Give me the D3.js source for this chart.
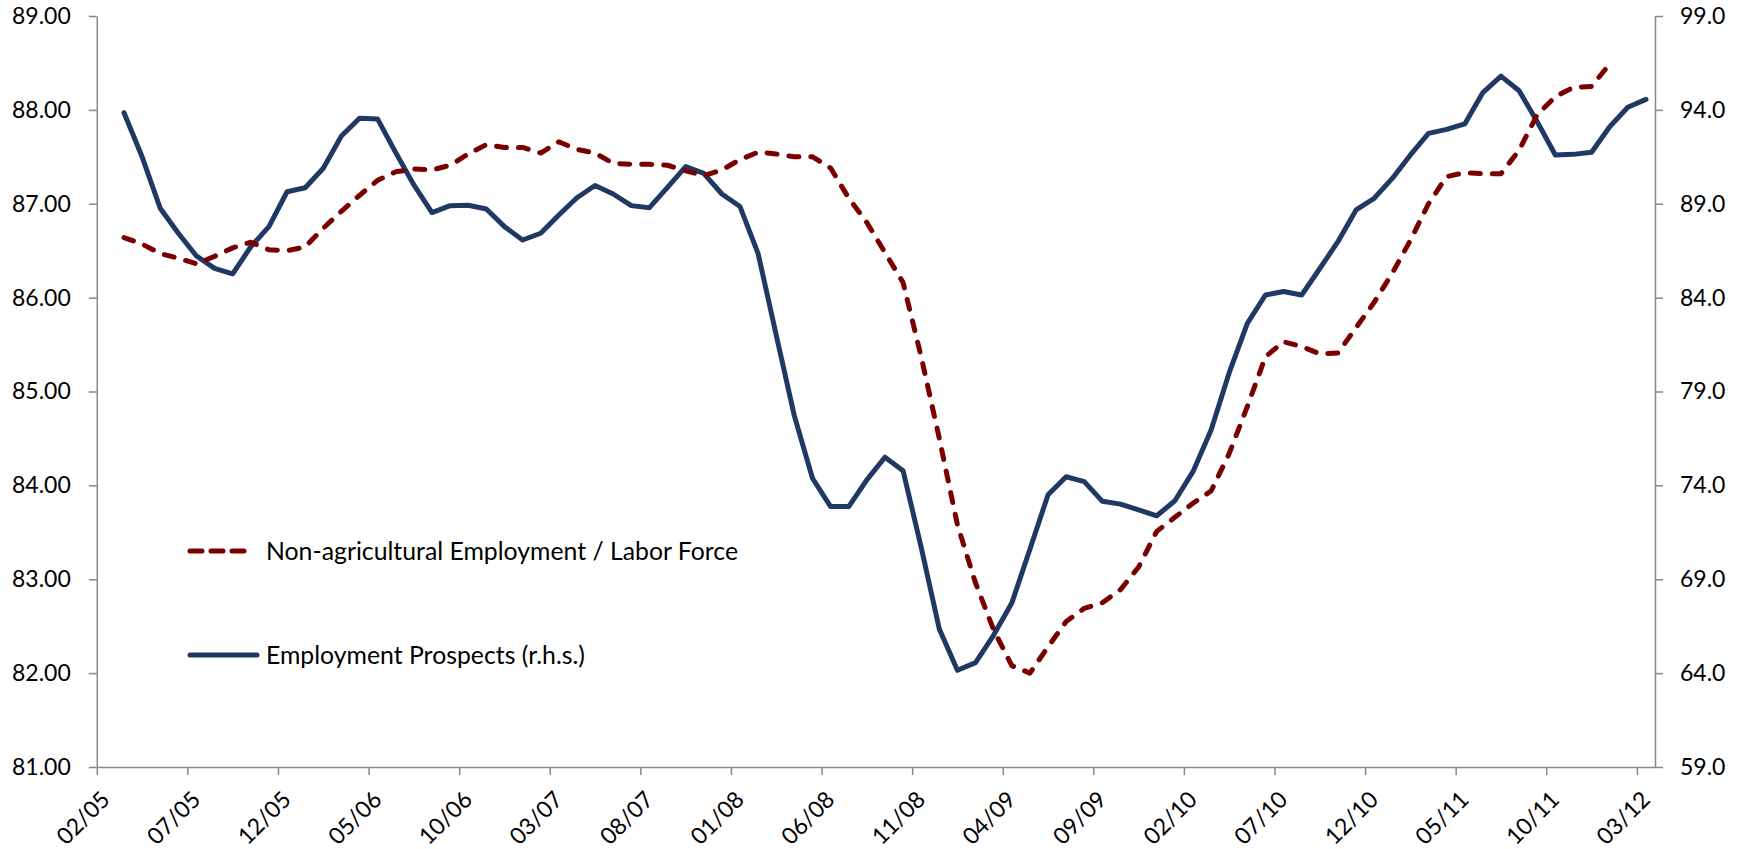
<!DOCTYPE html>
<html lang="en">

<head>
    <meta charset="UTF-8">
    <title>Employment</title>
    <script src="https://cdn.jsdelivr.net/npm/d3@7"></script>
    <style>
        body { margin: 0; background: #fff; }
        svg text { font-family: Lato, "Noto Sans", sans-serif; fill: #000; }
    </style>
</head>

<body>

    <main></main>

    <script>
        // monthly categories, 02/05 .. 03/12
        var months = [
            "02/05", "03/05", "04/05", "05/05", "06/05", "07/05", "08/05", "09/05", "10/05", "11/05", "12/05",
            "01/06", "02/06", "03/06", "04/06", "05/06", "06/06", "07/06", "08/06", "09/06", "10/06", "11/06", "12/06",
            "01/07", "02/07", "03/07", "04/07", "05/07", "06/07", "07/07", "08/07", "09/07", "10/07", "11/07", "12/07",
            "01/08", "02/08", "03/08", "04/08", "05/08", "06/08", "07/08", "08/08", "09/08", "10/08", "11/08", "12/08",
            "01/09", "02/09", "03/09", "04/09", "05/09", "06/09", "07/09", "08/09", "09/09", "10/09", "11/09", "12/09",
            "01/10", "02/10", "03/10", "04/10", "05/10", "06/10", "07/10", "08/10", "09/10", "10/10", "11/10", "12/10",
            "01/11", "02/11", "03/11", "04/11", "05/11", "06/11", "07/11", "08/11", "09/11", "10/11", "11/11", "12/11",
            "01/12", "02/12", "03/12"
        ];

        var tickLabels = ["02/05", "07/05", "12/05", "05/06", "10/06", "03/07", "08/07", "01/08", "06/08",
            "11/08", "04/09", "09/09", "02/10", "07/10", "12/10", "05/11", "10/11", "03/12"];

        var leftTicks = [81, 82, 83, 84, 85, 86, 87, 88, 89];
        var rightTicks = [59, 64, 69, 74, 79, 84, 89, 94, 99];

        // Non-agricultural Employment / Labor Force (left axis), from 03/05
        var employmentStart = "03/05";
        var employmentRatio = [
            86.64, 86.57, 86.47, 86.42, 86.36, 86.44, 86.53, 86.59, 86.51, 86.50,
            86.54, 86.74, 86.92, 87.09, 87.25, 87.34, 87.37, 87.36, 87.41, 87.53,
            87.63, 87.60, 87.60, 87.54, 87.66, 87.58, 87.54, 87.43, 87.42, 87.42,
            87.41, 87.35, 87.30, 87.36, 87.47, 87.55, 87.53, 87.50, 87.50, 87.38,
            87.06, 86.80, 86.48, 86.16, 85.37, 84.50, 83.58, 82.96, 82.46, 82.08,
            82.00, 82.28, 82.55, 82.69, 82.75, 82.89, 83.13, 83.51, 83.66, 83.81,
            83.94, 84.34, 84.84, 85.37, 85.53, 85.48, 85.40, 85.41, 85.68, 85.95,
            86.26, 86.61, 87.00, 87.29, 87.33, 87.32, 87.32, 87.57, 87.95, 88.14,
            88.24, 88.25, 88.49
        ];

        // Employment Prospects (right axis), from 03/05
        var prospectsStart = "03/05";
        var prospects = [
            93.85, 91.50, 88.76, 87.43, 86.22, 85.56, 85.26, 86.71, 87.78, 89.64,
            89.85, 90.89, 92.61, 93.55, 93.51, 91.72, 90.00, 88.53, 88.90, 88.92,
            88.72, 87.78, 87.07, 87.43, 88.40, 89.32, 89.97, 89.52, 88.90, 88.79,
            89.87, 90.98, 90.62, 89.52, 88.85, 86.34, 82.00, 77.70, 74.38, 72.87,
            72.87, 74.29, 75.50, 74.78, 70.70, 66.35, 64.15, 64.56, 66.03, 67.73,
            70.60, 73.50, 74.46, 74.20, 73.15, 73.00, 72.70, 72.38, 73.18, 74.73,
            76.95, 80.00, 82.63, 84.14, 84.33, 84.14, 85.55, 86.98, 88.67, 89.29,
            90.35, 91.60, 92.75, 92.96, 93.25, 94.92, 95.80, 95.02, 93.37, 91.60,
            91.63, 91.74, 93.10, 94.14, 94.56
        ];

        var legendNames = ["Non-agricultural Employment / Labor Force", "Employment Prospects (r.h.s.)"];

        var red = '#7a0000';
        var blue = '#1f3864';
        var axisColor = '#878787';

        var svg = d3.select('main')
            .append('svg')
            .attr('width', 1746)
            .attr('height', 849);

        var plotLeft = 96.8, plotRight = 1655, plotTop = 16, plotBottom = 767;

        var x = d3.scaleLinear()
            .domain([0, months.length])
            .range([plotLeft, plotRight]);

        var yLeft = d3.scaleLinear()
            .domain([81, 89])
            .range([plotBottom, plotTop]);

        var yRight = d3.scaleLinear()
            .domain([59, 99])
            .range([plotBottom, plotTop]);

        function toPoints(values, start) {
            var offset = months.indexOf(start);
            return values.map((v, i) => ({ idx: offset + i, value: v }));
        }

        // axes
        var xAxis = svg.append('g')
            .attr('transform', `translate(0, ${plotBottom})`)
            .call(d3.axisBottom(x)
                .tickValues(tickLabels.map(t => months.indexOf(t)))
                .tickFormat(i => months[i])
                .tickSizeInner(8)
                .tickSizeOuter(0));

        xAxis.selectAll('text')
            .attr('x', 0)
            .attr('y', 0)
            .attr('dy', 0)
            .attr('text-anchor', 'end')
            .attr('transform', 'translate(14, 34) rotate(-45)')
            .style('font-size', '23px');

        var leftAxis = svg.append('g')
            .attr('transform', `translate(${plotLeft}, 0)`)
            .call(d3.axisLeft(yLeft)
                .tickValues(leftTicks)
                .tickFormat(d3.format('.2f'))
                .tickSizeInner(8)
                .tickSizeOuter(0)
                .tickPadding(18));

        leftAxis.selectAll('text').style('font-size', '23px');

        var rightAxis = svg.append('g')
            .attr('transform', `translate(${plotRight}, 0)`)
            .call(d3.axisRight(yRight)
                .tickValues(rightTicks)
                .tickFormat(d3.format('.1f'))
                .tickSizeInner(8)
                .tickSizeOuter(0)
                .tickPadding(17));

        rightAxis.selectAll('text').style('font-size', '23px');

        svg.selectAll('.domain, .tick line')
            .attr('stroke', axisColor)
            .attr('stroke-width', 1.5);

        // lines
        var ratioLine = d3.line()
            .x(d => x(d.idx + 0.5))
            .y(d => yLeft(d.value));

        var prospectsLine = d3.line()
            .x(d => x(d.idx + 0.5))
            .y(d => yRight(d.value));

        svg.append('path')
            .datum(toPoints(prospects, prospectsStart))
            .attr('d', prospectsLine)
            .attr('fill', 'none')
            .attr('stroke', blue)
            .attr('stroke-width', 5)
            .attr('stroke-linejoin', 'round')
            .attr('stroke-linecap', 'round');

        svg.append('path')
            .datum(toPoints(employmentRatio, employmentStart))
            .attr('d', ratioLine)
            .attr('fill', 'none')
            .attr('stroke', red)
            .attr('stroke-width', 5)
            .attr('stroke-dasharray', '10,12')
            .attr('stroke-linejoin', 'round')
            .attr('stroke-linecap', 'round');

        // legend
        var legend = svg.append('g').attr('id', 'legend');

        legend.append('line')
            .attr('x1', 190).attr('x2', 247)
            .attr('y1', 551).attr('y2', 551)
            .attr('stroke', red)
            .attr('stroke-width', 5)
            .attr('stroke-dasharray', '12,9')
            .attr('stroke-linecap', 'round');

        legend.append('line')
            .attr('x1', 190).attr('x2', 257)
            .attr('y1', 655).attr('y2', 655)
            .attr('stroke', blue)
            .attr('stroke-width', 5)
            .attr('stroke-linecap', 'round');

        legend.selectAll('text')
            .data(legendNames)
            .enter()
            .append('text')
            .attr('x', 266)
            .attr('y', (d, i) => i === 0 ? 551 : 655)
            .attr('dy', '0.35em')
            .style('font-size', '24.8px')
            .text(d => d);
    </script>

</body>

</html>
